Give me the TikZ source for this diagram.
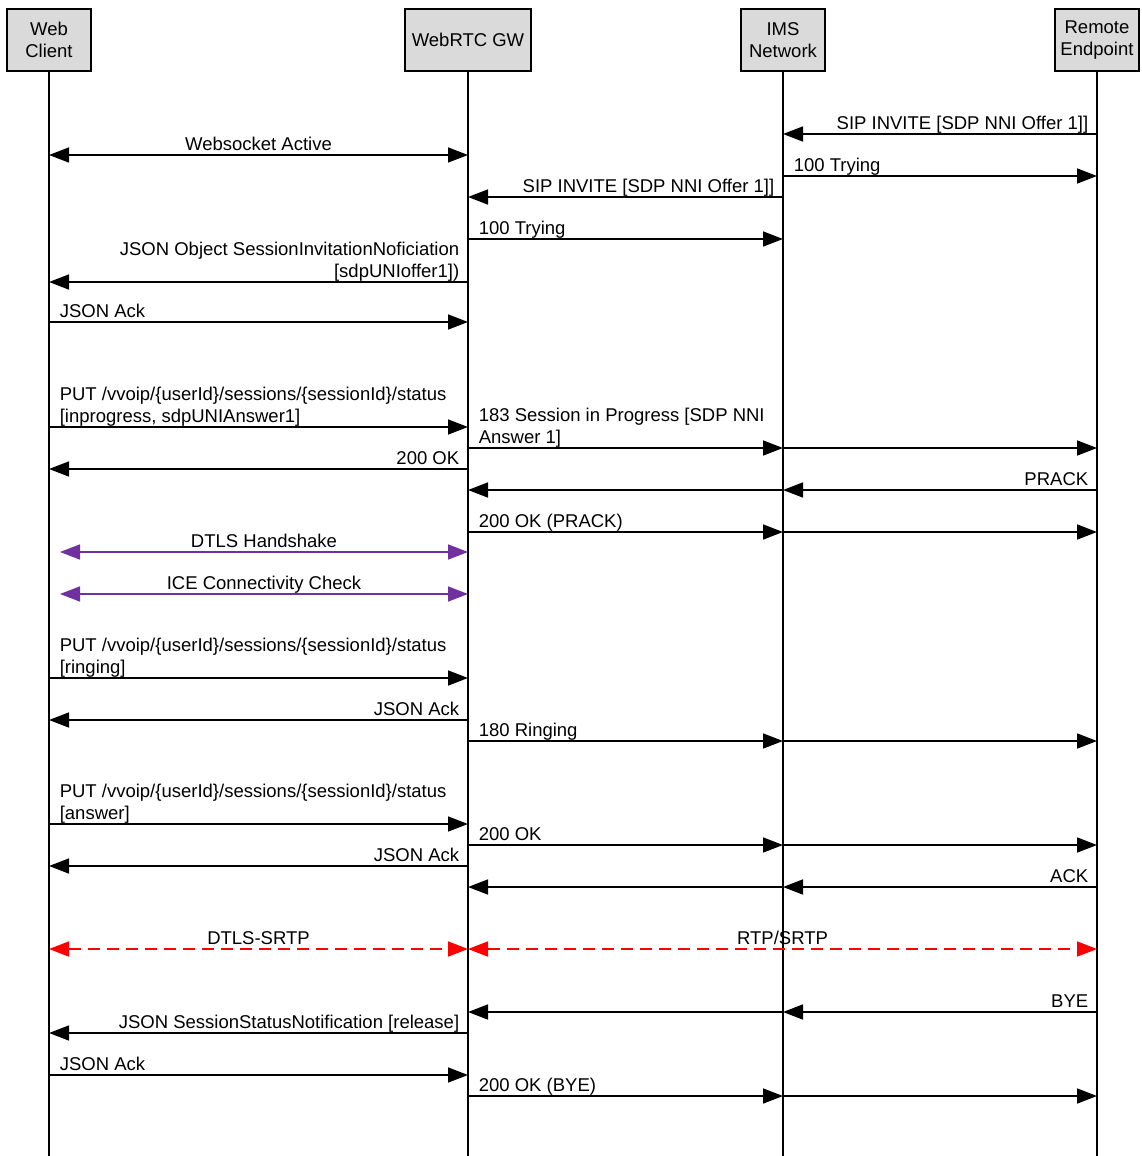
\documentclass[tikz,border=0pt]{standalone}
\usepackage{fontspec}
\setmainfont{Liberation Sans}
\usetikzlibrary{arrows.meta}

\definecolor{actorgray}{RGB}{218,218,218}
\definecolor{dtlspurple}{RGB}{112,48,160}
\definecolor{srtpred}{RGB}{255,0,0}

\tikzset{
    actor/.style={draw, line width=1.6pt, fill=actorgray, minimum height=62pt, minimum width=84pt,
        align=center, inner sep=2pt, font=\fontsize{18.5}{22}\selectfont},
    lifeline/.style={line width=1.6pt},
    msg/.style={line width=1.6pt, -{Triangle[length=20pt,width=15pt]}},
    both/.style={line width=1.6pt, {Triangle[length=20pt,width=15pt]}-{Triangle[length=20pt,width=15pt]}},
    media/.style={both, srtpred, dash pattern=on 12pt off 7pt},
    lblL/.style={pos=0, anchor=base west, xshift=10pt, yshift=5pt, inner sep=0pt, align=left, black},
    lblR/.style={pos=0, anchor=base east, xshift=-8pt, yshift=5pt, inner sep=0pt, align=right, black},
    lblC/.style={midway, anchor=base, yshift=5pt, inner sep=0pt, black}
}

\begin{document}
\begin{tikzpicture}[x=1pt, y=-1pt, font=\fontsize{18.5}{22}\selectfont]
    \useasboundingbox (0,0) rectangle (1141,1156);

    % participants
    \node[actor] (wc) at (49,40) {Web\\Client};
    \node[actor, minimum width=126pt] (gw) at (468,40) {WebRTC GW};
    \node[actor] (ims) at (783,40) {IMS\\Network};
    \node[actor] (re) at (1097,40) {Remote\\Endpoint};

    \foreach \p in {wc, gw, ims, re}
        \draw[lifeline] (\p) -- (\p |- 0,1156);

    % incoming call
    \draw[msg] (re |- 0,134) -- (ims |- 0,134) node[lblR] {SIP INVITE [SDP NNI Offer 1]]};
    \draw[both] (wc |- 0,155) -- (gw |- 0,155) node[lblC] {Websocket Active};
    \draw[msg] (ims |- 0,176) -- (re |- 0,176) node[lblL] {100 Trying};
    \draw[msg] (ims |- 0,197) -- (gw |- 0,197) node[lblR] {SIP INVITE [SDP NNI Offer 1]]};
    \draw[msg] (gw |- 0,239) -- (ims |- 0,239) node[lblL] {100 Trying};
    \draw[msg] (gw |- 0,282) -- (wc |- 0,282) node[lblR] {JSON Object SessionInvitationNoficiation\\{}[sdpUNIoffer1])};
    \draw[msg] (wc |- 0,322) -- (gw |- 0,322) node[lblL] {JSON Ack};

    % in progress
    \draw[msg] (wc |- 0,427) -- (gw |- 0,427) node[lblL] {PUT /vvoip/\{userId\}/sessions/\{sessionId\}/status\\{}[inprogress, sdpUNIAnswer1]};
    \draw[msg] (gw |- 0,448) -- (ims |- 0,448) node[lblL] {183 Session in Progress [SDP NNI\\Answer 1]};
    \draw[msg] (ims |- 0,448) -- (re |- 0,448);
    \draw[msg] (gw |- 0,469) -- (wc |- 0,469) node[lblR] {200 OK};
    \draw[msg] (re |- 0,490) -- (ims |- 0,490) node[lblR] {PRACK};
    \draw[msg] (ims |- 0,490) -- (gw |- 0,490);
    \draw[msg] (gw |- 0,532) -- (ims |- 0,532) node[lblL] {200 OK (PRACK)};
    \draw[msg] (ims |- 0,532) -- (re |- 0,532);

    % media setup
    \draw[both, dtlspurple] (wc |- 0,552) ++(11,0) -- (gw |- 0,552) node[lblC] {DTLS Handshake};
    \draw[both, dtlspurple] (wc |- 0,594) ++(11,0) -- (gw |- 0,594) node[lblC] {ICE Connectivity Check};

    % ringing
    \draw[msg] (wc |- 0,678) -- (gw |- 0,678) node[lblL] {PUT /vvoip/\{userId\}/sessions/\{sessionId\}/status\\{}[ringing]};
    \draw[msg] (gw |- 0,720) -- (wc |- 0,720) node[lblR] {JSON Ack};
    \draw[msg] (gw |- 0,741) -- (ims |- 0,741) node[lblL] {180 Ringing};
    \draw[msg] (ims |- 0,741) -- (re |- 0,741);

    % answer
    \draw[msg] (wc |- 0,824) -- (gw |- 0,824) node[lblL] {PUT /vvoip/\{userId\}/sessions/\{sessionId\}/status\\{}[answer]};
    \draw[msg] (gw |- 0,845) -- (ims |- 0,845) node[lblL] {200 OK};
    \draw[msg] (ims |- 0,845) -- (re |- 0,845);
    \draw[msg] (gw |- 0,866) -- (wc |- 0,866) node[lblR] {JSON Ack};
    \draw[msg] (re |- 0,887) -- (ims |- 0,887) node[lblR] {ACK};
    \draw[msg] (ims |- 0,887) -- (gw |- 0,887);

    % media
    \draw[media] (wc |- 0,949) -- (gw |- 0,949) node[lblC] {DTLS-SRTP};
    \draw[media] (gw |- 0,949) -- (re |- 0,949) node[lblC] {RTP/SRTP};

    % release
    \draw[msg] (re |- 0,1012) -- (ims |- 0,1012) node[lblR] {BYE};
    \draw[msg] (ims |- 0,1012) -- (gw |- 0,1012);
    \draw[msg] (gw |- 0,1033) -- (wc |- 0,1033) node[lblR] {JSON SessionStatusNotification [release]};
    \draw[msg] (wc |- 0,1075) -- (gw |- 0,1075) node[lblL] {JSON Ack};
    \draw[msg] (gw |- 0,1096) -- (ims |- 0,1096) node[lblL] {200 OK (BYE)};
    \draw[msg] (ims |- 0,1096) -- (re |- 0,1096);
\end{tikzpicture}
\end{document}
